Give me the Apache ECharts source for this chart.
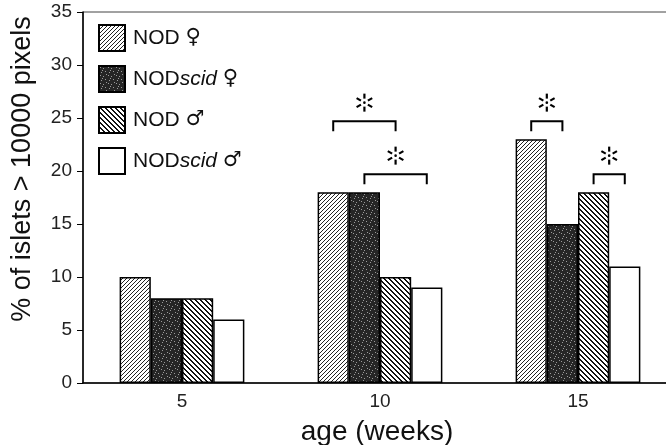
<!DOCTYPE html>
<html>
<head>
<meta charset="utf-8">
<script src="https://cdn.jsdelivr.net/npm/echarts@6/dist/echarts.min.js"></script>
<style>html,body{margin:0;padding:0;background:#fff}#c{width:666px;height:445px}</style>
</head>
<body>
<div id="c"></div>
<script>
// ---- data ----
const categories = ['5', '10', '15'];
const seriesNames = ['NOD ♀', 'NODscid ♀', 'NOD ♂', 'NODscid ♂'];
const nodFemale = [10, 18, 23];
const scidFemale = [8, 18, 15];
const nodMale = [8, 10, 18];
const scidMale = [6, 9, 11];
// significance brackets: category index, from-series, to-series, bracket level
const bracketCat = [1, 1, 2, 2];
const bracketFrom = [0, 1, 0, 2];
const bracketTo = [2, 3, 1, 3];
const bracketLevel = [24.7, 19.7, 24.7, 19.7];
const yMin = 0, yMax = 35, yStep = 5;

// ---- patterns ----
function pattern(size, test, bg, fg) {
  const cv = document.createElement('canvas');
  cv.width = size; cv.height = size;
  const ctx = cv.getContext('2d');
  ctx.fillStyle = bg; ctx.fillRect(0, 0, size, size);
  ctx.fillStyle = fg;
  for (let x = 0; x < size; x++) for (let y = 0; y < size; y++) if (test(x, y)) ctx.fillRect(x, y, 1, 1);
  return { image: cv, repeat: 'repeat' };
}
const fwdHatch = pattern(4, (x, y) => (x + y) % 4 === 0, '#fff', '#222');
const backHatch = pattern(5, (x, y) => { const d = ((x - y) % 5 + 5) % 5; return d === 0 || d === 1; }, '#fff', '#111');
const speckles = [[1,1],[4,2],[6,5],[2,6],[7,0],[3,4]];
const stipple = pattern(8, (x, y) => speckles.some(p => p[0] === x && p[1] === y), '#262626', '#9a9a9a');
const fills = [fwdHatch, stipple, backHatch, '#fff'];
const values = [nodFemale, scidFemale, nodMale, scidMale];

const FONT = '"Liberation Sans", Arial, Helvetica, sans-serif';
const barGapCat = 0.37;

const chart = echarts.init(document.getElementById('c'), null, { renderer: 'canvas' });

const barSeries = seriesNames.map((n, i) => ({
  name: n,
  type: 'bar',
  data: values[i],
  barGap: '0%',
  barCategoryGap: (barGapCat * 100) + '%',
  itemStyle: { color: fills[i], borderColor: '#000', borderWidth: 1.5 },
  emphasis: { disabled: true },
  animation: false
}));

const bracketData = bracketCat.map((c, i) => [c, bracketFrom[i], bracketTo[i], bracketLevel[i]]);

function starShape(cx, cy) {
  const kids = [];
  const angles = [90, 270, 30, 150, 210, 330];
  angles.forEach(a => {
    const r = a * Math.PI / 180;
    kids.push({ type: 'line', shape: { x1: cx + Math.cos(r) * 4, y1: cy - Math.sin(r) * 4, x2: cx + Math.cos(r) * 9, y2: cy - Math.sin(r) * 9 }, style: { stroke: '#000', lineWidth: 2.2 } });
  });
  kids.push({ type: 'circle', shape: { cx: cx, cy: cy, r: 1.3 }, style: { fill: '#000' } });
  return kids;
}

const option = {
  animation: false,
  backgroundColor: '#fff',
  grid: { left: 83, top: 12, width: 594, height: 371, outerBoundsMode: 'none', containLabel: false, show: true, borderColor: '#444', borderWidth: 1, backgroundColor: 'transparent' },
  legend: {
    data: seriesNames,
    orient: 'vertical',
    left: 98, top: 24,
    padding: 0,
    itemWidth: 26, itemHeight: 26, itemGap: 13,
    icon: 'rect',
    formatter: function (name) {
      const sym = name.slice(-1);
      if (name.indexOf('scid') >= 0) return '{a|NOD}{i|scid}{a| }{s|' + sym + '}';
      return '{a|NOD }{s|' + sym + '}';
    },
    textStyle: {
      padding: [0, 0, 0, 3],
      rich: {
        a: { fontSize: 21, fontFamily: FONT, color: '#111' },
        i: { fontSize: 21, fontFamily: FONT, fontStyle: 'italic', color: '#111' },
        s: { fontSize: 21, fontFamily: '"DejaVu Sans", sans-serif', color: '#111' }
      }
    }
  },
  xAxis: {
    type: 'category',
    data: categories,
    axisLine: { lineStyle: { color: '#000', width: 1.5 } },
    axisTick: { show: false },
    axisLabel: { fontSize: 19, fontFamily: FONT, color: '#222', margin: 9 },
    name: 'age (weeks)',
    nameLocation: 'middle',
    nameGap: 35,
    nameTextStyle: { fontSize: 28, fontFamily: FONT, color: '#111', padding: [0, 6, 0, 0] }
  },
  yAxis: {
    type: 'value',
    min: yMin, max: yMax, interval: yStep,
    axisLine: { show: true, lineStyle: { color: '#000', width: 1.5 } },
    axisTick: { show: true, length: 6, lineStyle: { color: '#000', width: 1 } },
    splitLine: { show: false },
    axisLabel: { fontSize: 19, fontFamily: FONT, color: '#222', margin: 11 },
    name: '% of islets > 10000 pixels',
    nameLocation: 'middle',
    nameGap: 47,
    nameTextStyle: { fontSize: 27, fontFamily: FONT, color: '#111', padding: [0, 0, 0, 57] }
  },
  series: barSeries.concat([{
    type: 'custom',
    name: 'sig',
    data: bracketData,
    encode: { x: 0, y: 3 },
    silent: true,
    z: 5,
    renderItem: function (params, api) {
      const cat = api.value(0), from = api.value(1), to = api.value(2), lvl = api.value(3);
      const band = api.size([1, 0])[0];
      const barW = band * (1 - barGapCat) / 4;
      const c = api.coord([cat, lvl]);
      const yDown = api.coord([cat, lvl - 0.95])[1];
      const star = api.coord([cat, lvl + 1.75]);
      const x1 = c[0] + (from - 1.5) * barW;
      const x2 = c[0] + (to - 1.5) * barW;
      return {
        type: 'group',
        children: [
          { type: 'polyline', shape: { points: [[x1, yDown], [x1, c[1]], [x2, c[1]], [x2, yDown]] }, style: { stroke: '#000', lineWidth: 2, fill: null } }
        ].concat(starShape((x1 + x2) / 2, star[1]))
      };
    }
  }])
};
chart.setOption(option);
</script>
</body>
</html>
